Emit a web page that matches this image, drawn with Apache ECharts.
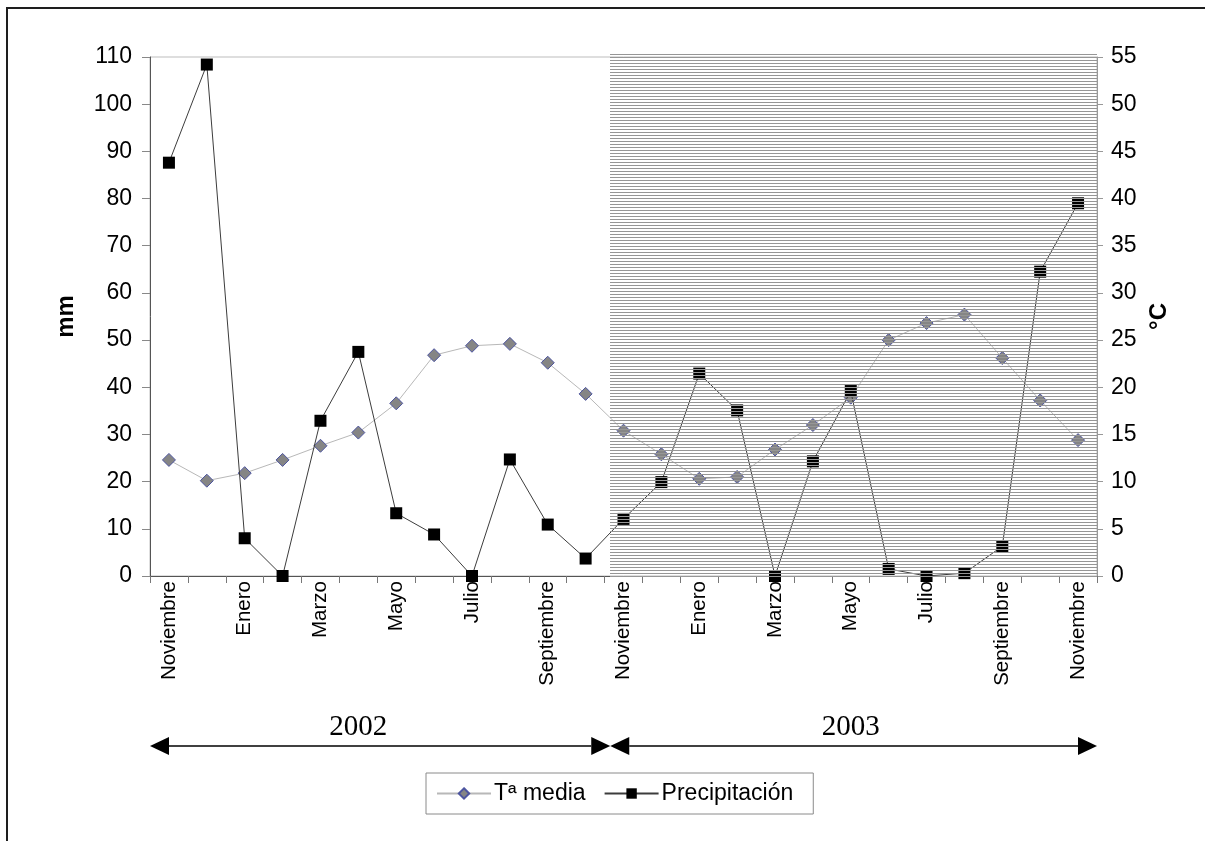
<!DOCTYPE html>
<html>
<head>
<meta charset="utf-8">
<title>Temperatura media y precipitación</title>
<script src="https://cdn.jsdelivr.net/npm/echarts@6/dist/echarts.min.js"></script>
<style>
  html, body { margin: 0; padding: 0; background: #fff; }
  #chart { width: 1205px; height: 841px; }
</style>
</head>
<body>
<div id="chart"></div>
<script>
// Monthly series, November to November over two years
const months = [
  'Noviembre', 'Diciembre', 'Enero', 'Febrero', 'Marzo', 'Abril', 'Mayo', 'Junio',
  'Julio', 'Agosto', 'Septiembre', 'Octubre',
  'Noviembre', 'Diciembre', 'Enero', 'Febrero', 'Marzo', 'Abril', 'Mayo', 'Junio',
  'Julio', 'Agosto', 'Septiembre', 'Octubre', 'Noviembre'
];
// Mean temperature (°C, right axis)
const tempMedia = [
  12.3, 10.1, 10.9, 12.3, 13.8, 15.2, 18.3, 23.4, 24.4, 24.6, 22.6, 19.3,
  15.4, 12.9, 10.3, 10.5, 13.4, 16.0, 18.9, 25.0, 26.8, 27.7, 23.1, 18.6, 14.4
];
// Precipitation (mm, left axis)
const precipitacion = [
  87.6, 108.4, 8.0, 0, 32.9, 47.5, 13.3, 8.8, 0, 24.7, 10.9, 3.7,
  12.1, 19.9, 42.9, 35.1, 0, 24.3, 39.2, 1.5, 0, 0.6, 6.3, 64.5, 79.0
];
// Year spans along the time axis
const years = ['2002', '2003'];
const yearSpanEnds = [11, 24];     // last month index of each span
const yearLabelAt = [5, 18];       // month index where each year label sits

const mmTicks = { min: 0, max: 110, interval: 10 };
const cTicks = { min: 0, max: 55, interval: 5 };

const FONT = "'Liberation Sans', Arial, sans-serif";

const chart = echarts.init(document.getElementById('chart'));

chart.setOption({
  animation: false,
  backgroundColor: '#ffffff',
  grid: {
    left: 150, right: 108, top: 57, bottom: 265,
    show: true, borderColor: '#bdbdbd', borderWidth: 1, backgroundColor: 'transparent'
  },
  legend: {
    left: 426, top: 773,
    padding: [9, 20, 9, 10],
    itemGap: 18,
    itemWidth: 54, itemHeight: 13,
    borderColor: '#8a8a8a', borderWidth: 1, borderRadius: 0,
    backgroundColor: '#fff',
    textStyle: { fontFamily: FONT, fontSize: 23, color: '#000', padding: [0, 0, 0, -2] },
    data: ['Tª media', 'Precipitación']
  },
  xAxis: {
    type: 'category',
    data: months,
    boundaryGap: true,
    axisLine: { lineStyle: { color: '#555', width: 1 } },
    axisTick: { show: true, interval: 0, length: 7, lineStyle: { color: '#777' } },
    axisLabel: {
      interval: 1, rotate: 90, margin: 5,
      fontFamily: FONT, fontSize: 20.5, color: '#000'
    },
    splitLine: { show: false }
  },
  yAxis: [
    {
      type: 'value', position: 'left',
      min: mmTicks.min, max: mmTicks.max, interval: mmTicks.interval,
      name: 'mm', nameLocation: 'middle', nameRotate: 90, nameGap: 72,
      nameTextStyle: { fontFamily: FONT, fontSize: 24, fontWeight: 'bold', color: '#000' },
      axisLine: { show: true, lineStyle: { color: '#555' } },
      axisTick: { show: true, length: 8, lineStyle: { color: '#888' } },
      axisLabel: { margin: 18, fontFamily: FONT, fontSize: 23, color: '#000' },
      splitLine: { show: false }
    },
    {
      type: 'value', position: 'right',
      min: cTicks.min, max: cTicks.max, interval: cTicks.interval,
      name: '°C', nameLocation: 'middle', nameRotate: 90, nameGap: 38,
      nameTextStyle: { fontFamily: FONT, fontSize: 24, fontWeight: 'bold', color: '#000', padding: [0, 0, 22, 0] },
      axisLine: { show: true, lineStyle: { color: '#999' } },
      axisTick: { show: true, length: 6, lineStyle: { color: '#999' } },
      axisLabel: { margin: 14, fontFamily: FONT, fontSize: 23, color: '#000' },
      splitLine: { show: false }
    }
  ],
  series: [
    {
      name: 'Tª media',
      type: 'line',
      yAxisIndex: 1,
      data: tempMedia,
      symbol: 'diamond',
      symbolSize: 13,
      lineStyle: { color: '#b8b8b8', width: 1 },
      itemStyle: { color: '#858585', borderColor: '#4d55a0', borderWidth: 1 },
      z: 2
    },
    {
      name: 'Precipitación',
      type: 'line',
      yAxisIndex: 0,
      data: precipitacion,
      symbol: 'rect',
      symbolSize: 12,
      lineStyle: { color: '#3c3c3c', width: 1 },
      itemStyle: { color: '#000', borderColor: '#000', borderWidth: 0 },
      z: 3
    }
  ]
});

// Striped overlay for the second year, arrows and year captions under the axis
function decorate() {
  const band = chart.convertToPixel({ xAxisIndex: 0 }, 1) - chart.convertToPixel({ xAxisIndex: 0 }, 0);
  const x0 = chart.convertToPixel({ xAxisIndex: 0 }, 0) - band / 2;
  const xEnd = chart.convertToPixel({ xAxisIndex: 0 }, months.length - 1) + band / 2;
  const yTop = chart.convertToPixel({ yAxisIndex: 0 }, mmTicks.max);
  const yBot = chart.convertToPixel({ yAxisIndex: 0 }, mmTicks.min);
  const shadeLeft = chart.convertToPixel({ xAxisIndex: 0 }, yearSpanEnds[0] + 1) - band * 0.35;

  const pat = document.createElement('canvas');
  pat.width = 4; pat.height = 3;
  const ctx = pat.getContext('2d');
  ctx.fillStyle = 'rgb(150,150,150)';
  ctx.fillRect(0, 0, 4, 1);

  const arrowY = 746;
  const head = 19, half = 9;
  const spans = [[x0, shadeLeft], [shadeLeft, xEnd]];
  const els = [];

  els.push({
    type: 'rect', z: 100, silent: true,
    shape: { x: Math.round(shadeLeft), y: Math.round(yTop) - 4, width: Math.round(xEnd - shadeLeft), height: Math.round(yBot - yTop) + 5 },
    style: { fill: { image: pat, repeat: 'repeat' }, stroke: null }
  });

  spans.forEach(function (s, i) {
    const a = s[0], b = s[1];
    els.push({
      type: 'line', z: 100, silent: true,
      shape: { x1: a + head, y1: arrowY, x2: b - head, y2: arrowY },
      style: { stroke: '#000', lineWidth: 1.5 }
    });
    els.push({
      type: 'polygon', z: 100, silent: true,
      shape: { points: [[a, arrowY], [a + head, arrowY - half], [a + head, arrowY + half]] },
      style: { fill: '#000' }
    });
    els.push({
      type: 'polygon', z: 100, silent: true,
      shape: { points: [[b, arrowY], [b - head, arrowY - half], [b - head, arrowY + half]] },
      style: { fill: '#000' }
    });
    els.push({
      type: 'text', z: 100, silent: true,
      x: chart.convertToPixel({ xAxisIndex: 0 }, yearLabelAt[i]),
      y: 727,
      style: {
        text: years[i], fill: '#000',
        font: "29px 'Liberation Serif', 'Times New Roman', serif",
        align: 'center', verticalAlign: 'middle'
      }
    });
  });

  // outer chart frame
  els.push({
    type: 'rect', z: 100, silent: true,
    shape: { x: 7, y: 8, width: 1400, height: 1000 },
    style: { fill: null, stroke: '#1e1e1e', lineWidth: 2 }
  });

  chart.setOption({ graphic: els });
}
decorate();
</script>
</body>
</html>
